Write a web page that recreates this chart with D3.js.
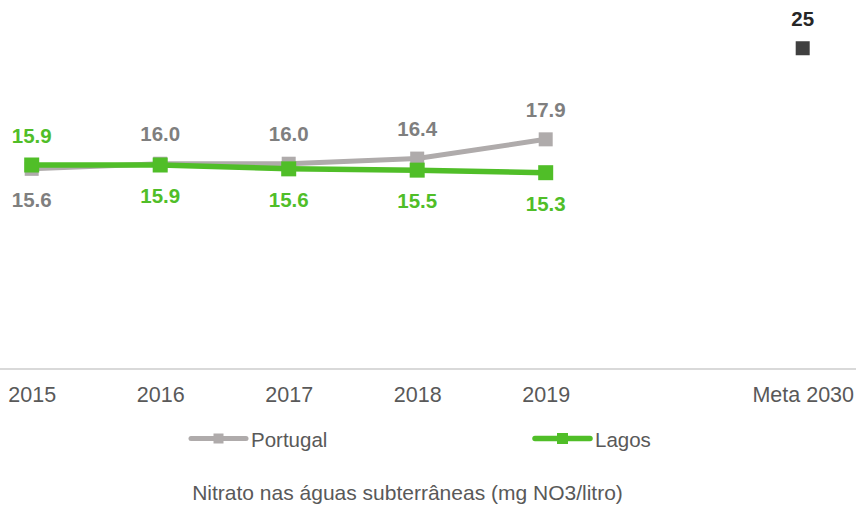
<!DOCTYPE html>
<html>
<head>
<meta charset="utf-8">
<script src="https://cdn.jsdelivr.net/npm/d3@7"></script>
<style>
  html, body { margin: 0; padding: 0; background: #fff; }
  svg { display: block; font-family: "Liberation Sans", Arial, sans-serif; }
</style>
</head>
<body>
<svg id="chart" width="856" height="509"></svg>
<script>
// Categories along the x axis (one empty slot before the 2030 target)
const categories = ["2015", "2016", "2017", "2018", "2019", "", "Meta 2030"];
const years = ["2015", "2016", "2017", "2018", "2019"];
const portugal = [15.6, 16.0, 16.0, 16.4, 17.9];
const lagos = [15.9, 15.9, 15.6, 15.5, 15.3];
// Label placement per point: above (-1) or below (+1)
const portugalLabelSide = [1, -1, -1, -1, -1];
const lagosLabelSide = [-1, 1, 1, 1, 1];
const metaCategory = "Meta 2030";
const metaValue = 25;
const seriesNames = ["Portugal", "Lagos"];
const title = "Nitrato nas águas subterrâneas (mg NO3/litro)";

const colors = { Portugal: "#AFABAB", Lagos: "#50BE28", meta: "#404040" };
const labelColors = { Portugal: "#7F7F7F", Lagos: "#50BE28", meta: "#262626" };

const svg = d3.select("#chart");
const W = 856;
const baseY = 369;

const x = d3.scalePoint().domain(categories).range([31.7, 802.7]);
const y = d3.scaleLinear().domain([0, 28]).range([baseY, baseY - 28 * 12.83]);

// Category axis
const xAxis = d3.axisBottom(x).tickSize(0).tickPadding(0)
  .tickFormat(d => d);
const axisG = svg.append("g").attr("transform", `translate(0,${baseY})`).call(xAxis);
axisG.select(".domain").remove();
axisG.selectAll("text")
  .attr("dy", null)
  .attr("y", 32.7)
  .attr("fill", "#595959")
  .style("font-size", "21.5px")
  .style("font-family", "'Liberation Sans', Arial, sans-serif");
svg.append("line")
  .attr("x1", 0).attr("x2", W)
  .attr("y1", baseY).attr("y2", baseY)
  .attr("stroke", "#D9D9D9").attr("stroke-width", 2);

const line = d3.line().x((d, i) => x(years[i])).y(d => y(d));

function drawSeries(name, values, markerSize, lineWidth) {
  const g = svg.append("g");
  g.append("path")
    .datum(values)
    .attr("d", line)
    .attr("fill", "none")
    .attr("stroke", colors[name])
    .attr("stroke-width", lineWidth)
    .attr("stroke-linejoin", "round");
  g.selectAll("rect")
    .data(values)
    .join("rect")
    .attr("x", (d, i) => x(years[i]) - markerSize / 2)
    .attr("y", d => y(d) - markerSize / 2)
    .attr("width", markerSize)
    .attr("height", markerSize)
    .attr("fill", colors[name]);
  return g;
}

function drawLabels(name, values, sides) {
  svg.append("g").selectAll("text")
    .data(values)
    .join("text")
    .attr("x", (d, i) => x(years[i]))
    .attr("y", (d, i) => y(d) + (sides[i] < 0 ? -22.5 : 38))
    .attr("text-anchor", "middle")
    .attr("fill", labelColors[name])
    .style("font-size", "20.5px")
    .style("font-weight", "bold")
    .text(d => d.toFixed(1));
}

drawSeries("Portugal", portugal, 14, 5);
drawSeries("Lagos", lagos, 15, 5.5);
drawLabels("Portugal", portugal, portugalLabelSide);
drawLabels("Lagos", lagos, lagosLabelSide);

// 2030 target marker
svg.append("rect")
  .attr("x", x(metaCategory) - 7)
  .attr("y", y(metaValue) - 7)
  .attr("width", 14).attr("height", 14)
  .attr("fill", colors.meta);
svg.append("text")
  .attr("x", x(metaCategory))
  .attr("y", y(metaValue) - 22.5)
  .attr("text-anchor", "middle")
  .attr("fill", labelColors.meta)
  .style("font-size", "20.5px")
  .style("font-weight", "bold")
  .text(metaValue);

// Legend
const legendItems = [
  { name: "Portugal", x0: 191, marker: 10 },
  { name: "Lagos", x0: 535, marker: 11 }
];
const legendY = 438.5;
const lg = svg.append("g");
legendItems.forEach(it => {
  lg.append("line")
    .attr("x1", it.x0).attr("x2", it.x0 + 55)
    .attr("y1", legendY).attr("y2", legendY)
    .attr("stroke", colors[it.name])
    .attr("stroke-width", it.name === "Lagos" ? 5.5 : 5)
    .attr("stroke-linecap", "round");
  lg.append("rect")
    .attr("x", it.x0 + 27.5 - it.marker / 2)
    .attr("y", legendY - it.marker / 2)
    .attr("width", it.marker).attr("height", it.marker)
    .attr("fill", colors[it.name]);
  lg.append("text")
    .attr("x", it.x0 + 60)
    .attr("y", 446.5)
    .attr("fill", "#595959")
    .style("font-size", "20.5px")
    .text(it.name);
});

// Chart title
svg.append("text")
  .attr("x", 407.5)
  .attr("y", 500)
  .attr("text-anchor", "middle")
  .attr("fill", "#595959")
  .style("font-size", "21px")
  .text(title);
</script>
</body>
</html>
